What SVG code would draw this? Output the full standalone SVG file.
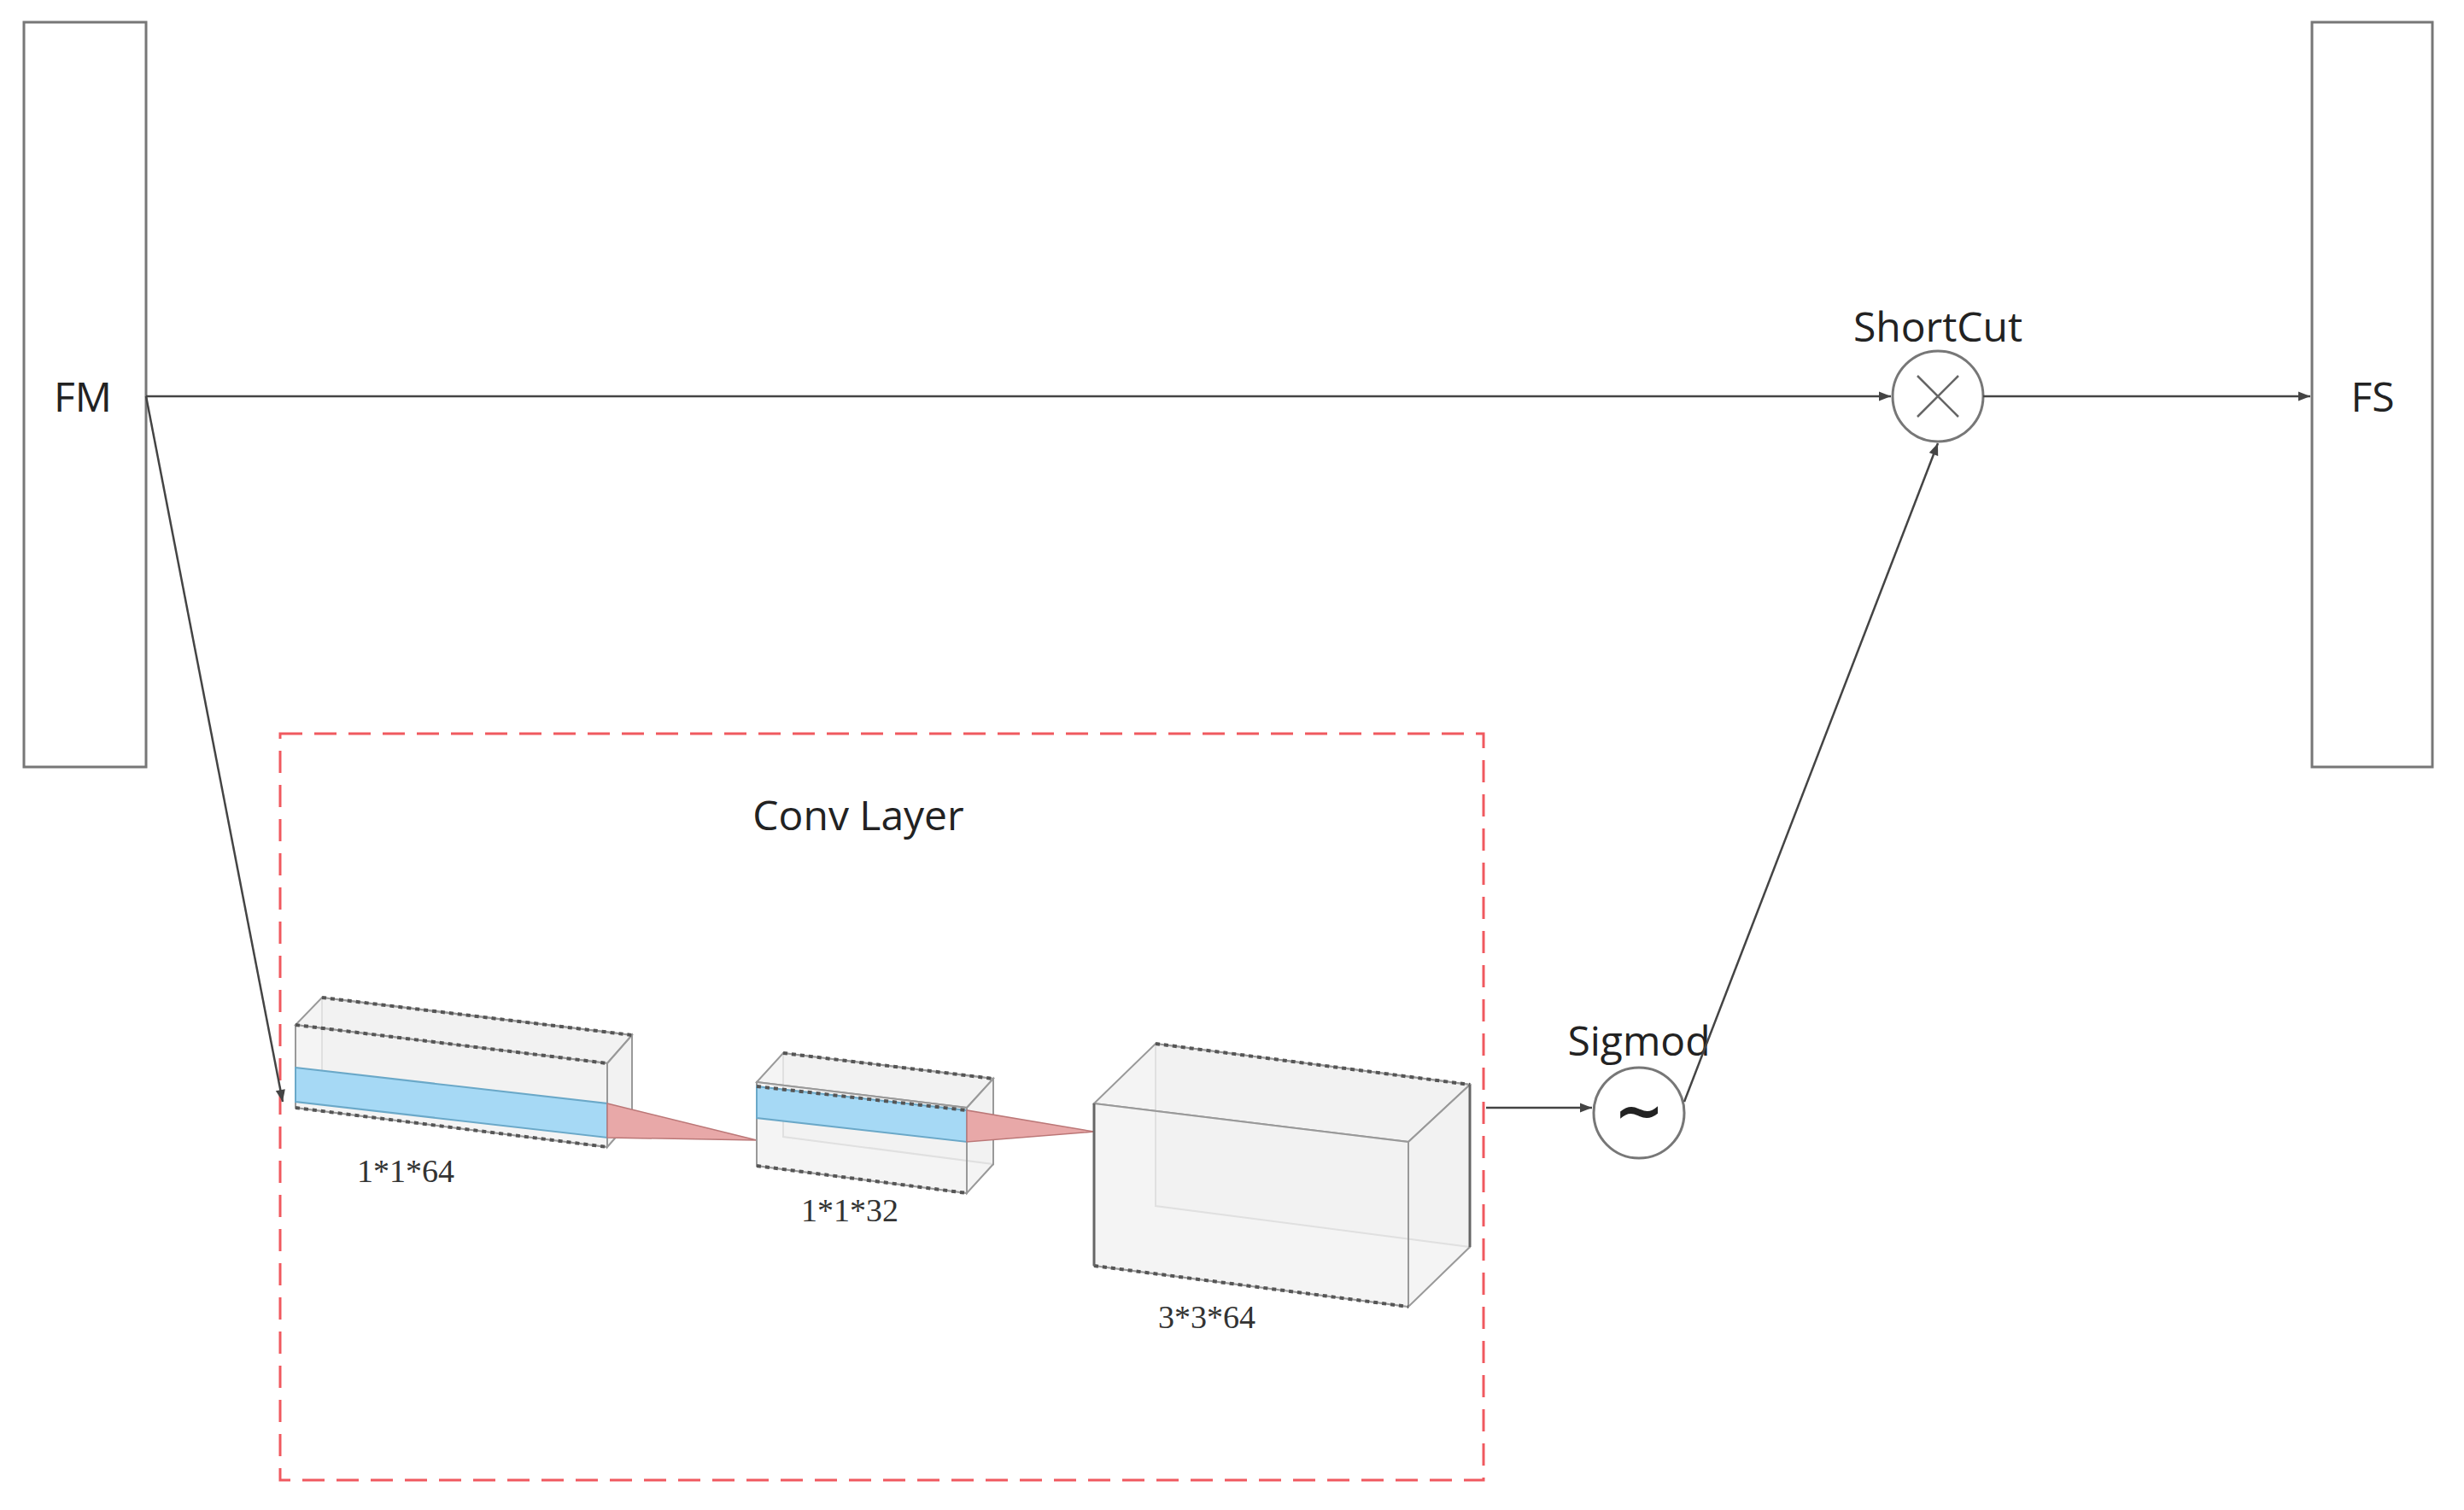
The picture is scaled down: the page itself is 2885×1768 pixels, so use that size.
<svg xmlns="http://www.w3.org/2000/svg" width="2885" height="1768" viewBox="0 0 2885 1768">
<defs>
<marker id="ah" viewBox="0 0 10 10" refX="10" refY="5" markerWidth="16" markerHeight="14" orient="auto" markerUnits="userSpaceOnUse"><path d="M0,1 L10,5 L0,9 z" fill="#444"/></marker>
<style>
.box{fill:#fff;stroke:#777;stroke-width:3}
.t{font-family:"Open Sans","Liberation Sans",sans-serif;font-size:48px;fill:#222}
.s{font-family:"Liberation Serif",serif;font-size:38px;fill:#333}
.ln{stroke:#444;stroke-width:2.5;fill:none}
.face{fill:#f1f1f1;fill-opacity:0.8;stroke:#999;stroke-width:2}
.dash{stroke:#555;stroke-width:4;stroke-dasharray:5 5;fill:none}
.blue{fill:#a6d9f5;stroke:#6aa8c8;stroke-width:2}
.pink{fill:#e8a8a8;stroke:#b77;stroke-width:1.5}
</style>
</defs>
<g id="FM"><rect class="box" x="28" y="26" width="143" height="872"/><text class="t" x="97" y="482" text-anchor="middle">FM</text></g>
<g id="FS"><rect class="box" x="2707" y="26" width="141" height="872"/><text class="t" x="2778" y="482" text-anchor="middle">FS</text></g>
<g id="shortcut"><circle cx="2269" cy="464" r="53" fill="#fff" stroke="#777" stroke-width="3"/><path d="M2245,440 L2293,488 M2293,440 L2245,488" stroke="#666" stroke-width="2.5"/><text class="t" x="2269" y="400" text-anchor="middle">ShortCut</text></g>
<g id="sigmod"><circle cx="1919" cy="1303" r="53" fill="#fff" stroke="#777" stroke-width="3"/><text x="1919" y="1325" text-anchor="middle" font-family="DejaVu Sans,sans-serif" font-size="70" font-weight="bold" fill="#222">~</text><text class="t" x="1919" y="1236" text-anchor="middle">Sigmod</text></g>
<g id="convlayer">
<rect x="328" y="859" width="1409" height="874" fill="none" stroke="#f0595f" stroke-width="3" stroke-dasharray="26 14"/>
<text class="t" x="1005" y="972" text-anchor="middle">Conv  Layer</text>
<!-- cube1 -->
<polygon class="face" points="377,1168 740,1212 740,1310 377,1265"/>
<polygon class="face" points="346,1200 711,1245 740,1212 377,1168"/>
<polygon class="face" points="711,1245 740,1212 740,1310 711,1343"/>
<polygon class="face" points="346,1200 711,1245 711,1343 346,1297" fill-opacity="0.3"/>
<polygon class="blue" points="346,1250 711,1292 711,1332 346,1290"/>
<path class="dash" d="M377,1168 L740,1212 M346,1297 L711,1343 M346,1200 L711,1245"/>
<polygon class="pink" points="711,1292 711,1332 886,1335"/>
<text class="s" x="475" y="1384" text-anchor="middle">1*1*64</text>
<!-- cube2 -->
<polygon class="face" points="917,1233 1163,1263 1163,1363 917,1331"/>
<polygon class="face" points="886,1267 1132,1297 1163,1263 917,1233"/>
<polygon class="face" points="1132,1297 1163,1263 1163,1363 1132,1397"/>
<polygon class="face" points="886,1267 1132,1297 1132,1397 886,1365" fill-opacity="0.3"/>
<polygon class="blue" points="886,1272 1132,1300 1132,1337 886,1309"/>
<path class="dash" d="M917,1233 L1163,1263 M886,1365 L1132,1397 M886,1272 L1132,1300"/>
<polygon class="pink" points="1132,1300 1132,1337 1281,1325"/>
<text class="s" x="995" y="1430" text-anchor="middle">1*1*32</text>
<!-- cube3 -->
<polygon class="face" points="1353,1222 1721,1270 1721,1460 1353,1412"/>
<polygon class="face" points="1281,1292 1649,1337 1721,1270 1353,1222"/>
<polygon class="face" points="1649,1337 1721,1270 1721,1460 1649,1530"/>
<polygon class="face" points="1281,1292 1649,1337 1649,1530 1281,1482" fill-opacity="0.3"/>
<path class="dash" d="M1353,1222 L1721,1270 M1281,1482 L1649,1530"/>
<path d="M1281,1292 L1281,1482 M1721,1270 L1721,1460" stroke="#666" stroke-width="3"/>
<text class="s" x="1413" y="1555" text-anchor="middle">3*3*64</text>
</g>
<g id="connectors">
<line class="ln" x1="171" y1="464" x2="2214" y2="464" marker-end="url(#ah)"/>
<line class="ln" x1="2322" y1="464" x2="2705" y2="464" marker-end="url(#ah)"/>
<line class="ln" x1="171" y1="464" x2="331" y2="1290" marker-end="url(#ah)"/>
<line class="ln" x1="1740" y1="1297" x2="1864" y2="1297" marker-end="url(#ah)"/>
<line class="ln" x1="1972" y1="1290" x2="2269" y2="519" marker-end="url(#ah)"/>
</g>
</svg>
